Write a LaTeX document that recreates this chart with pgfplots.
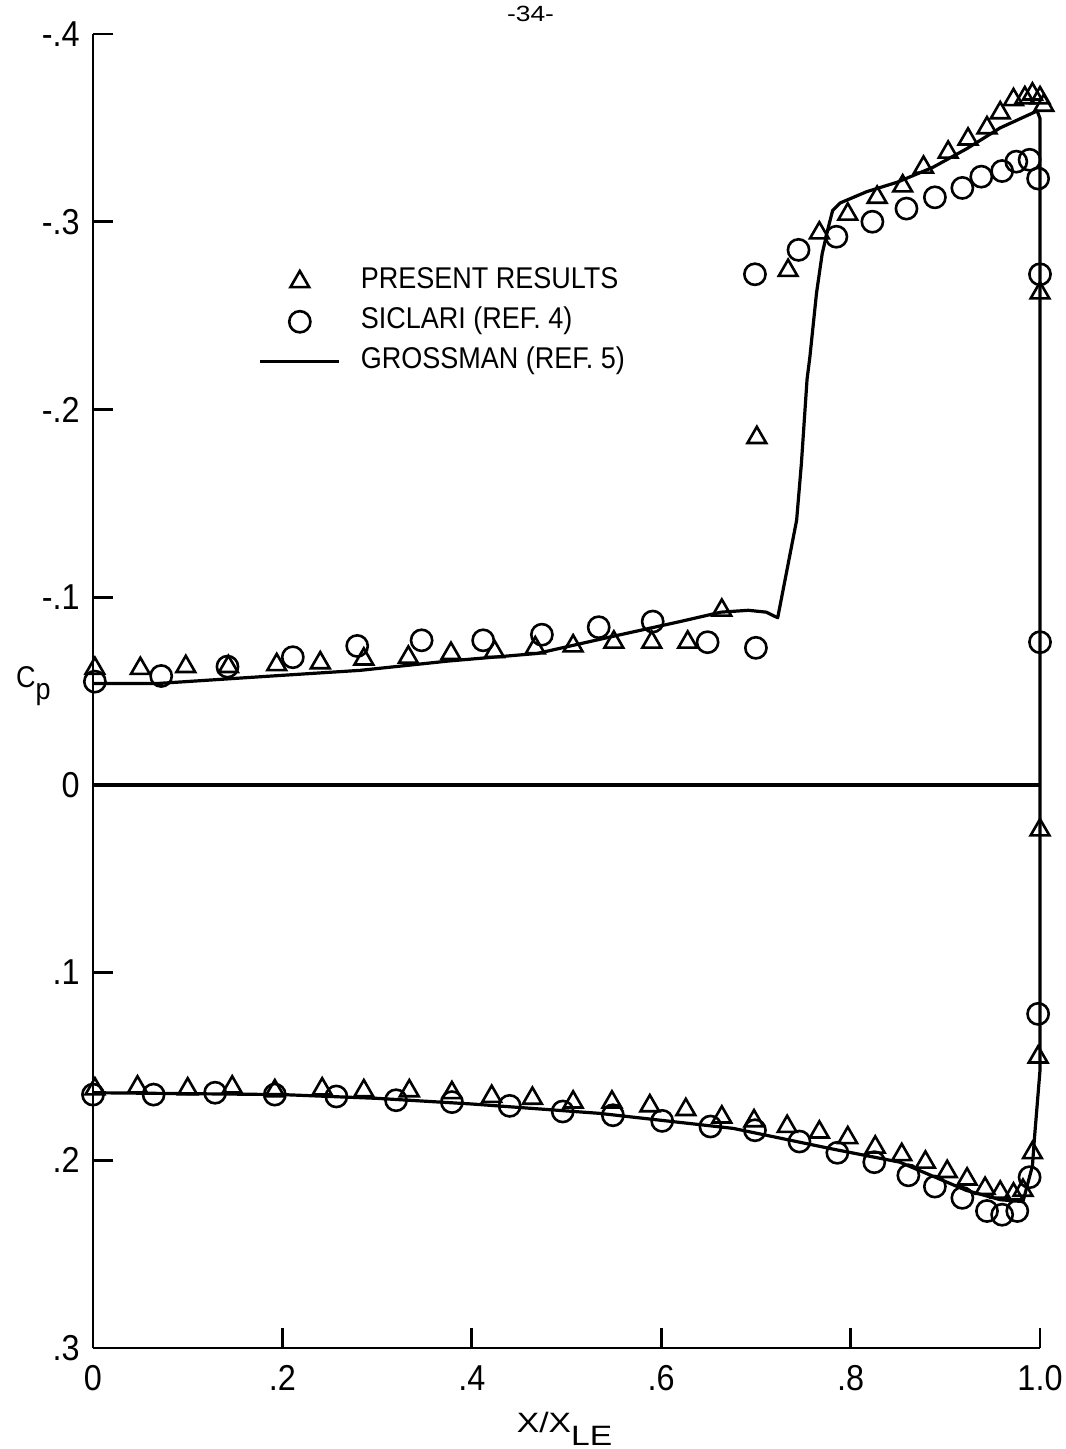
\documentclass[border=0pt]{standalone}
\usepackage{pgfplots}
\pgfplotsset{compat=1.18}
\usepackage{fontspec}
\setmainfont{Liberation Sans}[FakeStretch=0.9]
\newfontfamily\labelfont{Liberation Sans}[FakeStretch=1.2]

\pgfplotsset{
  legmark/.style={legend image code/.code={\draw[##1] plot coordinates {(19.75pt,0pt)};}},
  legline/.style={legend image code/.code={\draw[##1] (0pt,0pt) -- (39.5pt,0pt);}},
}

\begin{document}
\begin{tikzpicture}
\begin{axis}[
  scale only axis, width=473.5pt, height=657pt,
  xmin=0, xmax=1, ymin=-0.4, ymax=0.3,
  y dir=reverse,
  axis x line=bottom, axis y line=left,
  axis line style={-, line width=1.4pt},
  tick align=inside, major tick length=10pt,
  tick style={line width=1.4pt, black},
  xtick={0,0.2,0.4,0.6,0.8,1.0},
  xticklabels={0,.2,.4,.6,.8,1.0},
  ytick={-0.4,-0.3,-0.2,-0.1,0,0.1,0.2,0.3},
  yticklabels={-.4,-.3,-.2,-.1,0,.1,.2,.3},
  ticklabel style={font=\fontsize{18}{18}\selectfont, inner sep=0pt},
  yticklabel style={xshift=-6.5pt},
  xticklabel style={yshift=-8.5pt},
  clip=false,
  legend cell align=left,
  legend style={at={(axis cs:0.175,-0.276)}, anchor=north west,
    draw=none, fill=none, inner sep=0pt, outer sep=0pt,
    row sep=5pt, column sep=10pt,
    font=\fontsize{15}{15}\selectfont,
    nodes={inner sep=0pt, text height=11pt, text depth=4pt}},
]

% zero line
\addplot[black, line width=1.9pt, forget plot] coordinates {(0,0) (1,0)};

% present results (triangles)
\addplot[only marks, mark=triangle, mark size=5.4pt, black,
  mark options={line width=1.3pt, fill=none}, legmark]
table {
x y
0.002 -0.062
0.050 -0.062
0.098 -0.063
0.143 -0.063
0.194 -0.064
0.240 -0.065
0.286 -0.067
0.333 -0.068
0.378 -0.070
0.424 -0.071
0.467 -0.073
0.507 -0.074
0.550 -0.076
0.590 -0.076
0.628 -0.076
0.664 -0.093
0.701 -0.185
0.734 -0.274
0.767 -0.294
0.797 -0.304
0.828 -0.313
0.855 -0.319
0.877 -0.329
0.903 -0.337
0.924 -0.344
0.944 -0.350
0.958 -0.358
0.972 -0.365
0.984 -0.366
0.992 -0.368
1.000 -0.366
1.004 -0.362
1.000 -0.262
0.002 0.162
0.047 0.161
0.100 0.162
0.147 0.161
0.192 0.163
0.242 0.162
0.286 0.163
0.334 0.163
0.379 0.164
0.421 0.166
0.464 0.167
0.507 0.169
0.548 0.169
0.588 0.171
0.626 0.173
0.664 0.177
0.698 0.179
0.733 0.182
0.767 0.185
0.797 0.188
0.826 0.193
0.854 0.197
0.879 0.201
0.902 0.206
0.923 0.210
0.942 0.215
0.958 0.217
0.972 0.218
0.982 0.216
0.992 0.196
0.998 0.145
1.000 0.024
};
\addlegendentry{PRESENT RESULTS}

% Siclari (circles)
\addplot[only marks, mark=o, mark size=5.3pt, black,
  mark options={line width=1.3pt, fill=none}, legmark]
table {
x y
0.002 -0.055
0.072 -0.058
0.142 -0.063
0.211 -0.068
0.279 -0.074
0.347 -0.077
0.412 -0.077
0.474 -0.080
0.534 -0.084
0.591 -0.087
0.649 -0.076
0.700 -0.073
0.699 -0.272
0.745 -0.285
0.785 -0.292
0.823 -0.300
0.859 -0.307
0.889 -0.313
0.918 -0.318
0.938 -0.324
0.960 -0.327
0.975 -0.332
0.989 -0.333
0.998 -0.323
1.000 -0.272
1.000 -0.076
0.000 0.165
0.064 0.165
0.129 0.164
0.192 0.165
0.257 0.166
0.320 0.168
0.379 0.169
0.440 0.171
0.496 0.174
0.549 0.176
0.601 0.179
0.652 0.182
0.699 0.184
0.746 0.190
0.786 0.196
0.825 0.201
0.861 0.208
0.889 0.214
0.918 0.220
0.944 0.227
0.960 0.229
0.976 0.227
0.989 0.209
0.998 0.122
};
\addlegendentry{SICLARI (REF. 4)}

% Grossman (line)
\addplot[black, line width=1.6pt, line join=round, legline]
table {
x y
0.000 -0.054
0.068 -0.054
0.189 -0.058
0.282 -0.061
0.376 -0.066
0.469 -0.070
0.548 -0.079
0.620 -0.087
0.663 -0.092
0.692 -0.093
0.711 -0.092
0.723 -0.089
0.743 -0.141
0.748 -0.171
0.754 -0.216
0.757 -0.228
0.764 -0.262
0.770 -0.283
0.776 -0.296
0.781 -0.306
0.789 -0.310
0.817 -0.316
0.849 -0.321
0.887 -0.329
0.923 -0.339
0.958 -0.350
0.997 -0.359
1.000 -0.355
1.000 -0.329
1.000 0.000
1.000 0.118
1.000 0.152
0.994 0.189
0.992 0.203
0.982 0.222
0.958 0.221
0.922 0.216
0.852 0.201
0.781 0.194
0.676 0.183
0.570 0.177
0.535 0.175
0.400 0.170
0.300 0.167
0.200 0.165
0.000 0.164
};
\addlegendentry{GROSSMAN (REF. 5)}

\node[font=\labelfont\fontsize{11}{11}\selectfont, anchor=base] at (axis cs:0.462,-0.4) [yshift=6pt] {-34-};
\node[font=\fontsize{15}{15}\selectfont, anchor=base west] at (axis cs:0,-0.0517) [xshift=-42pt] {C\raisebox{-6pt}{p}};
\node[font=\labelfont\fontsize{14}{14}\selectfont, anchor=base] at (axis cs:0.498,0.3) [yshift=-42pt] {X/X\raisebox{-6.5pt}{LE}};

\coordinate (bl) at (axis cs:0,0.3);
\coordinate (tr) at (axis cs:1,-0.4);
\end{axis}
\pgfresetboundingbox
\path[use as bounding box] ([shift={(-46.5pt,-50.5pt)}]bl) rectangle ([shift={(12.5pt,17pt)}]tr);
\end{tikzpicture}
\end{document}
